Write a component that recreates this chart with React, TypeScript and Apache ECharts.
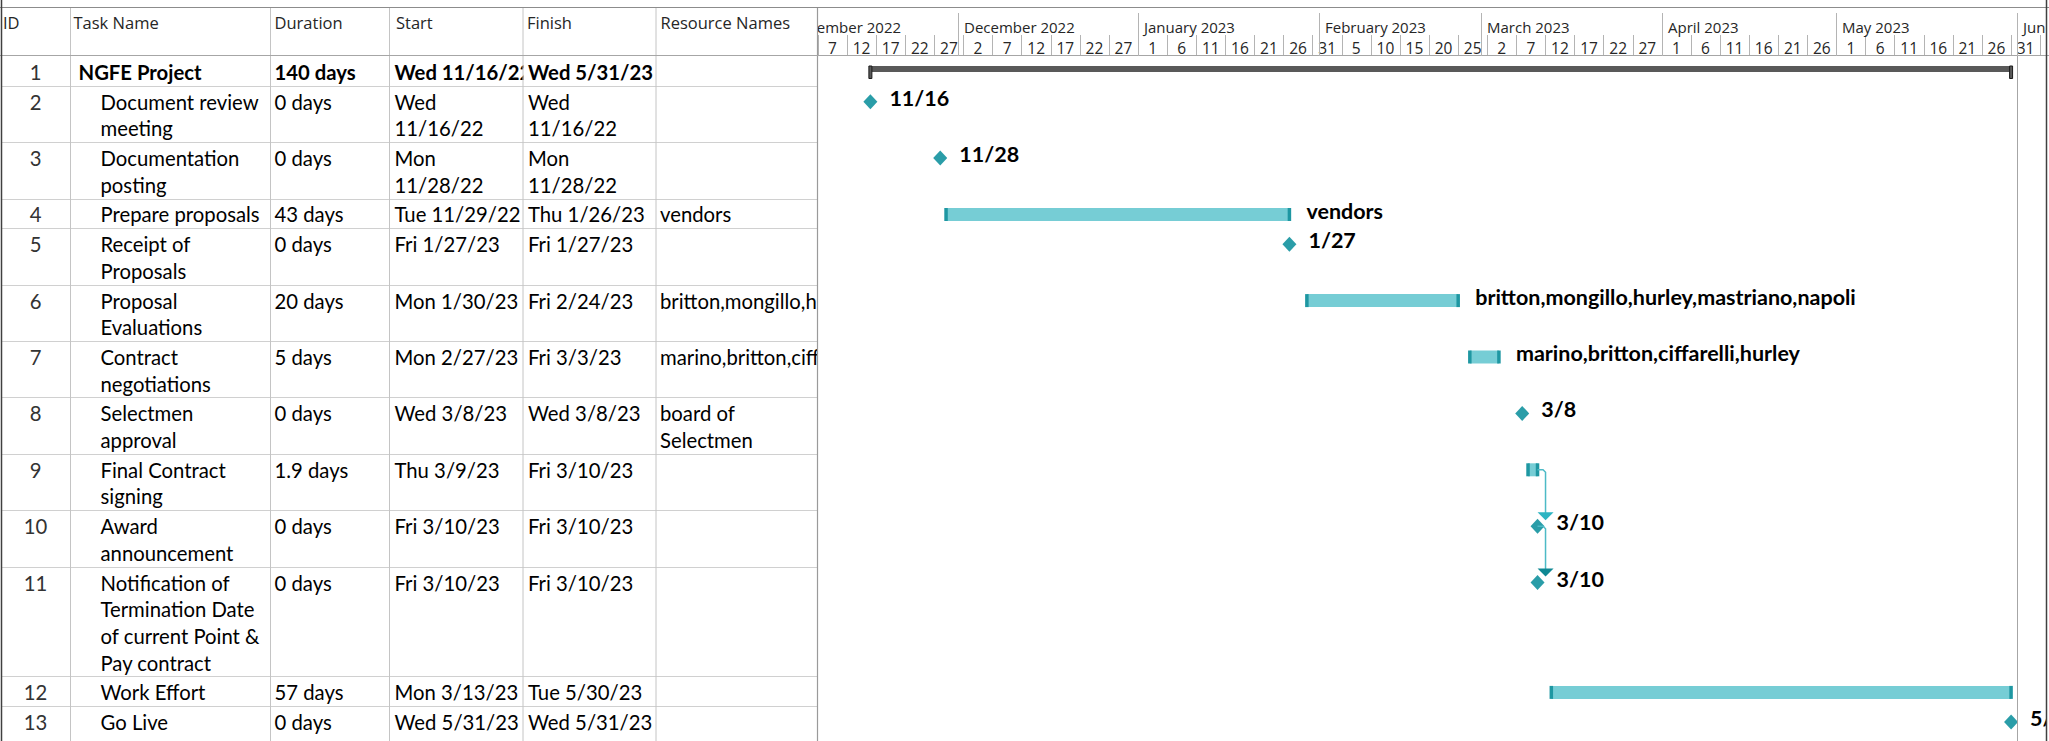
import React, { useEffect, useRef } from 'react';
import * as echarts from 'echarts';

// ---------------- data ----------------
const ids = [1, 2, 3, 4, 5, 6, 7, 8, 9, 10, 11, 12, 13];
const taskNames = [
  'NGFE Project',
  'Document review\nmeeting',
  'Documentation\nposting',
  'Prepare proposals',
  'Receipt of\nProposals',
  'Proposal\nEvaluations',
  'Contract\nnegotiations',
  'Selectmen\napproval',
  'Final Contract\nsigning',
  'Award\nannouncement',
  'Notification of\nTermination Date\nof current Point &\nPay contract',
  'Work Effort',
  'Go Live',
];
const durations = ['140 days', '0 days', '0 days', '43 days', '0 days', '20 days', '5 days', '0 days', '1.9 days', '0 days', '0 days', '57 days', '0 days'];
const startTexts = ['Wed 11/16/22', 'Wed\n11/16/22', 'Mon\n11/28/22', 'Tue 11/29/22', 'Fri 1/27/23', 'Mon 1/30/23', 'Mon 2/27/23', 'Wed 3/8/23', 'Thu 3/9/23', 'Fri 3/10/23', 'Fri 3/10/23', 'Mon 3/13/23', 'Wed 5/31/23'];
const finishTexts = ['Wed 5/31/23', 'Wed\n11/16/22', 'Mon\n11/28/22', 'Thu 1/26/23', 'Fri 1/27/23', 'Fri 2/24/23', 'Fri 3/3/23', 'Wed 3/8/23', 'Fri 3/10/23', 'Fri 3/10/23', 'Fri 3/10/23', 'Tue 5/30/23', 'Wed 5/31/23'];
const resourceTexts = ['', '', '', 'vendors', '', 'britton,mongillo,hurley,mastriano,napoli', 'marino,britton,ciffarelli,hurley', 'board of\nSelectmen', '', '', '', '', ''];
const taskKinds = ['summary', 'milestone', 'milestone', 'task', 'milestone', 'task', 'task', 'milestone', 'task', 'milestone', 'milestone', 'task', 'milestone'];
const barStarts = ['2022-11-16', '2022-11-16', '2022-11-28', '2022-11-29', '2023-01-27', '2023-01-30', '2023-02-27', '2023-03-08', '2023-03-09', '2023-03-10T15:12', '2023-03-10T15:12', '2023-03-13', '2023-05-31'];
const barEnds = ['2023-05-31', '2022-11-16', '2022-11-28', '2023-01-27', '2023-01-27', '2023-02-25', '2023-03-04', '2023-03-08', '2023-03-10T15:12', '2023-03-10T15:12', '2023-03-10T15:12', '2023-05-31', '2023-05-31'];
const ganttLabels = ['', '11/16', '11/28', 'vendors', '1/27', 'britton,mongillo,hurley,mastriano,napoli', 'marino,britton,ciffarelli,hurley', '3/8', '', '3/10', '3/10', '', '5/31'];
const links = [[9, 10], [10, 11]];
const linkArrowColors = ['#2DB4C2', '#0F8893'];
const headerLabels = ['ID', 'Task Name', 'Duration', 'Start', 'Finish', 'Resource Names'];
const monthStarts = ['2022-11-01', '2022-12-01', '2023-01-01', '2023-02-01', '2023-03-01', '2023-04-01', '2023-05-01', '2023-06-01'];
const monthLabels = ['November 2022', 'December 2022', 'January 2023', 'February 2023', 'March 2023', 'April 2023', 'May 2023', 'June 2023'];
const timescaleStart = '2022-11-07';
const timescaleEnd = '2023-06-06';
const projectFinishLine = '2023-06-01';
const dayTierStep = 5;

// ---------------- helpers / layout ----------------
const REF = Date.parse(timescaleStart + 'T00:00:00Z');
const toDay = (s: string) => (Date.parse(s.length === 10 ? s + 'T00:00:00Z' : s + ':00Z') - REF) / 864e5;

const W = 2049;
const H = 741;
const BODY_TOP = 56;
const HEADER_TOP = 8;
const CHART_LEFT = 818;
const CHART_RIGHT = 2046;
const LINE_H = 26.7;
const ROW_PAD = 3;
const FIRST_LINE_C = 16;
const colLines = [70.5, 270.5, 389.5, 523, 656];
const colTextX = [35.5, 100.5, 274.5, 394.5, 528, 660];
const BODY_FONT = 'Lato';
const HEAD_FONT = 'Open Sans';
const BODY_SIZE = 20.3;
const LABEL_SIZE = 21.5;

const rowLines = ids.map((_, i) =>
  Math.max(...[taskNames[i], durations[i], startTexts[i], finishTexts[i], resourceTexts[i]].map((t) => t.split('\n').length))
);
const rowTops: number[] = [];
{
  let acc = 0;
  for (let i = 0; i < ids.length; i++) {
    rowTops.push(acc);
    acc += rowLines[i] * LINE_H + ROW_PAD;
  }
}
const BODY_H = H - BODY_TOP;

function buildGraphic() {
  const els: any[] = [];
  const txt = (x: number, y: number, text: string, opts: any = {}) =>
    els.push({
      type: 'text',
      x,
      y,
      z: opts.z ?? 1.4,
      silent: true,
      style: {
        text,
        fill: opts.fill ?? '#000',
        font: opts.font ?? `${BODY_SIZE}px ${BODY_FONT}`,
        textAlign: opts.align ?? 'left',
        align: opts.align ?? 'left',
        textVerticalAlign: opts.va ?? 'top',
        verticalAlign: opts.va ?? 'top',
        lineHeight: LINE_H,
      },
    });
  const line = (x1: number, y1: number, x2: number, y2: number, stroke: string, lw = 1, z = 1.8) =>
    els.push({ type: 'line', z, silent: true, shape: { x1, y1, x2, y2 }, style: { stroke, lineWidth: lw } });

  // header labels
  const headX = [3, 73.5, 274.5, 396, 527, 660.5];
  headerLabels.forEach((h, k) => txt(headX[k], 22, h, { font: `16.5px ${HEAD_FONT}`, fill: '#262626', va: 'middle' }));

  // body cells
  ids.forEach((id, i) => {
    const y = BODY_TOP + rowTops[i] + FIRST_LINE_C - LINE_H / 2;
    const bold = taskKinds[i] === 'summary';
    const f = `${bold ? 'bold ' : ''}${BODY_SIZE}px ${BODY_FONT}`;
    txt(colTextX[0], y, String(id), { align: 'center', fill: '#333' });
    txt(bold ? 78.5 : colTextX[1], y, taskNames[i], { font: f });
    txt(colTextX[2], y, durations[i], { font: f });
    txt(colTextX[3], y, startTexts[i], { font: f });
    txt(colTextX[4], y, finishTexts[i], { font: f, z: 1.55 });
    if (resourceTexts[i]) txt(colTextX[5], y, resourceTexts[i], { font: f });
    // cover for finish cell, clipping overflow of the start column
    els.push({
      type: 'rect', z: 1.5, silent: true,
      shape: { x: colLines[3] + 0.5, y: BODY_TOP + rowTops[i] + 0.5, width: colLines[4] - colLines[3] - 1, height: rowLines[i] * LINE_H + ROW_PAD - 1 },
      style: { fill: '#fff' },
    });
  });

  // cover chart area (clips resource overflow)
  els.push({ type: 'rect', z: 1.6, silent: true, shape: { x: CHART_LEFT, y: BODY_TOP, width: CHART_RIGHT - CHART_LEFT, height: BODY_H }, style: { fill: '#fff' } });

  // row separators
  for (let i = 1; i < ids.length; i++) {
    const y = Math.round(BODY_TOP + rowTops[i]) + 0.5;
    line(1.5, y, 817.5, y, '#D0D0D0', 1);
  }
  // column lines
  colLines.forEach((x) => line(x, 7.5, x, H, '#C4C4C4', 1));
  // splitter
  line(817.5, 7.5, 817.5, H, '#9A9A9A', 1.2);
  // header bottom, top frame
  line(0, 55.5, W, 55.5, '#A6A6A6', 1);
  line(0, 7.5, W, 7.5, '#8C8C8C', 1.2);
  // left & right frame
  line(1.5, 0, 1.5, H, '#404040', 1.5);
  line(2046.5, 0, 2046.5, H, '#404040', 1.5, 3);
  return els;
}

export default function App() {
  const ref = useRef<HTMLDivElement>(null);
  useEffect(() => {
    if (!ref.current) return;
    const chart = echarts.init(ref.current, null, { renderer: 'svg' });
    const xMin = 0;
    const xMax = toDay(timescaleEnd);

    const ganttData = ids.map((_, i) => [toDay(barStarts[i]), toDay(barEnds[i]), rowTops[i] + FIRST_LINE_C, i]);
    const linkData = links.map(([a, b], k) => [toDay(barEnds[a - 1]), rowTops[a - 1] + FIRST_LINE_C, toDay(barStarts[b - 1]), rowTops[b - 1] + FIRST_LINE_C, k]);
    const monthData = monthStarts.map((m, k) => [toDay(m), k]);

    const option: any = {
      animation: false,
      backgroundColor: '#fff',
      grid: [
        { left: CHART_LEFT, top: BODY_TOP, width: CHART_RIGHT - CHART_LEFT, height: BODY_H, containLabel: false },
        { left: CHART_LEFT, top: HEADER_TOP, width: CHART_RIGHT - CHART_LEFT, height: BODY_TOP - HEADER_TOP, containLabel: false },
      ],
      xAxis: [
        {
          gridIndex: 0, type: 'value', position: 'top', min: xMin, max: xMax, interval: dayTierStep,
          axisLine: { show: false },
          splitLine: { show: false },
          axisTick: { show: true, length: 21, lineStyle: { color: '#B4B4B4', width: 1 } },
          axisLabel: {
            margin: 8,
            verticalAlign: 'middle',
            padding: [0, 0, 0, 29],
            fontFamily: HEAD_FONT,
            fontSize: 15.5,
            color: '#262626',
            showMinLabel: true,
            showMaxLabel: true,
            formatter: (v: number) => {
              if (Math.abs(v / dayTierStep - Math.round(v / dayTierStep)) > 1e-6) return '';
              if (v > xMax - 2) return '';
              return String(new Date(REF + v * 864e5).getUTCDate());
            },
          },
        },
        { gridIndex: 1, type: 'value', min: xMin, max: xMax, show: false },
      ],
      yAxis: [
        { gridIndex: 0, type: 'value', inverse: true, min: 0, max: BODY_H, show: false },
        { gridIndex: 1, type: 'value', inverse: true, min: 0, max: BODY_TOP - HEADER_TOP, show: false },
      ],
      graphic: { elements: buildGraphic() },
      series: [
        {
          type: 'custom', name: 'months', xAxisIndex: 1, yAxisIndex: 1, clip: true, silent: true,
          data: monthData,
          encode: { x: 0 },
          renderItem: (params: any, api: any) => {
            const k = api.value(1);
            const top = api.coord([api.value(0), 5]);
            const bot = api.coord([api.value(0), BODY_TOP - HEADER_TOP]);
            const mid = api.coord([api.value(0), 18.5]);
            const x = Math.round(top[0]) + 0.5;
            return {
              type: 'group',
              children: [
                { type: 'line', shape: { x1: x, y1: top[1], x2: x, y2: bot[1] }, style: { stroke: '#B4B4B4', lineWidth: 1 } },
                { type: 'text', x: x + 5.5, y: mid[1], style: { text: monthLabels[k], font: `15px ${HEAD_FONT}`, fill: '#262626', align: 'left', verticalAlign: 'middle' } },
              ],
            };
          },
        },
        {
          type: 'custom', name: 'gantt', xAxisIndex: 0, yAxisIndex: 0, clip: true, silent: true,
          data: ganttData,
          encode: { x: [0, 1], y: 2 },
          renderItem: (params: any, api: any) => {
            const i = api.value(3);
            const kind = taskKinds[i];
            const p0 = api.coord([api.value(0), api.value(2)]);
            const p1 = api.coord([api.value(1), api.value(2)]);
            const cy = p0[1];
            const children: any[] = [];
            let labelX = p1[0] + 17;
            if (kind === 'task') {
              children.push({ type: 'rect', shape: { x: p0[0], y: cy - 6.5, width: p1[0] - p0[0], height: 13 }, style: { fill: '#76CDD5' } });
              [p0[0], p1[0]].forEach((x) =>
                children.push({ type: 'rect', shape: { x: x - 1.75, y: cy - 6.5, width: 3.5, height: 13 }, style: { fill: '#1E97A2' } })
              );
            } else if (kind === 'milestone') {
              const x = p0[0];
              children.push({ type: 'polygon', shape: { points: [[x, cy - 7.5], [x + 7, cy], [x, cy + 7.5], [x - 7, cy]] }, style: { fill: '#2A9DA8' } });
              labelX = x + 19;
            } else {
              children.push({ type: 'rect', shape: { x: p0[0], y: cy - 6, width: p1[0] - p0[0], height: 6 }, style: { fill: '#595959' } });
              [p0[0], p1[0]].forEach((x) =>
                children.push({ type: 'rect', shape: { x: x - 1.5, y: cy - 6, width: 3, height: 12.5 }, style: { fill: '#5A5A5A', stroke: '#1A1A1A', lineWidth: 1 } })
              );
            }
            if (ganttLabels[i]) {
              children.push({ type: 'text', x: labelX, y: cy - 4, style: { text: ganttLabels[i], font: `bold ${LABEL_SIZE}px ${BODY_FONT}`, fill: '#000', align: 'left', verticalAlign: 'middle' } });
            }
            return { type: 'group', children };
          },
          markLine: {
            silent: true, symbol: 'none', label: { show: false },
            lineStyle: { color: '#A6A6A6', width: 1, type: 'solid' },
            data: [{ xAxis: toDay(projectFinishLine) }],
          },
        },
        {
          type: 'custom', name: 'links', xAxisIndex: 0, yAxisIndex: 0, clip: true, silent: true, z: 3,
          data: linkData,
          encode: { x: [0, 2], y: [1, 3] },
          renderItem: (params: any, api: any) => {
            const a = api.coord([api.value(0), api.value(1)]);
            const b = api.coord([api.value(2), api.value(3)]);
            const k = api.value(4);
            const xv = b[0] + 8;
            const tipY = b[1] - 6;
            return {
              type: 'group',
              children: [
                { type: 'polyline', shape: { points: [[a[0], a[1]], [xv - 2.5, a[1]], [xv, a[1] + 2.5], [xv, tipY - 7]] }, style: { stroke: '#4DBAC6', lineWidth: 1.5, fill: 'none' } },
                { type: 'polygon', shape: { points: [[xv - 8, tipY - 8], [xv + 8, tipY - 8], [xv, tipY]] }, style: { fill: linkArrowColors[k] } },
              ],
            };
          },
        },
      ],
    };
    chart.setOption(option);
    return () => chart.dispose();
  }, []);
  return <div ref={ref} style={{ position: 'fixed', left: 0, top: 0, width: W, height: H, background: '#fff' }} />;
}
